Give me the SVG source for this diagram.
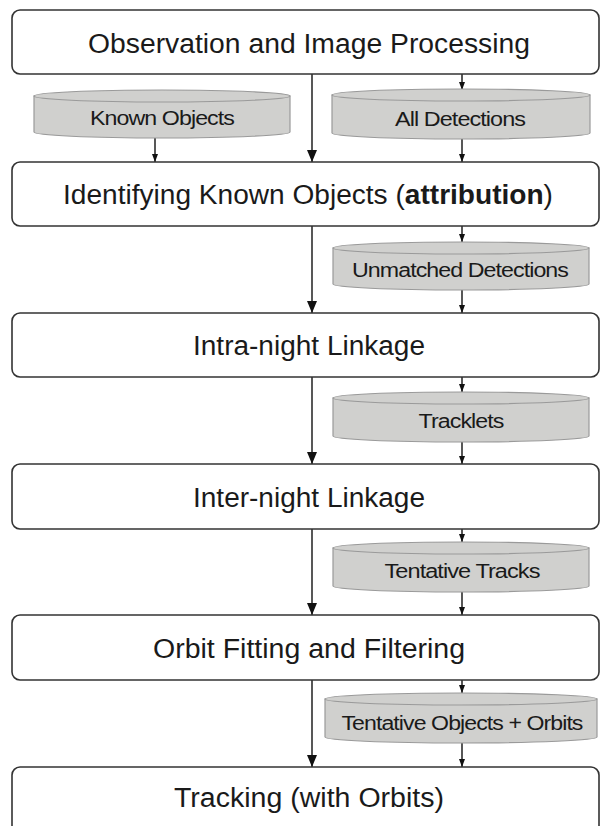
<svg xmlns="http://www.w3.org/2000/svg" width="600" height="826" viewBox="0 0 600 826">
<defs>
<marker id="big" viewBox="0 0 12 10" refX="12" refY="5" markerWidth="12" markerHeight="10" markerUnits="userSpaceOnUse" orient="auto">
<path d="M0,0 L12,5 L0,10 Z" fill="#111"/>
</marker>
<marker id="small" viewBox="0 0 8 6" refX="8" refY="3" markerWidth="8" markerHeight="6" markerUnits="userSpaceOnUse" orient="auto">
<path d="M0,0 L8,3 L0,6 Z" fill="#111"/>
</marker>
<style>
.box{fill:#fff;stroke:#333;stroke-width:1.6}
.cyl{fill:#d0d0ce;stroke:#9a9a9a;stroke-width:1.2}
.bt{font-family:"Liberation Sans",Arial,sans-serif;font-size:27px;fill:#1a1a1a;text-anchor:middle}
.ct{font-family:"Liberation Sans",Arial,sans-serif;font-size:20px;fill:#1a1a1a;text-anchor:middle;letter-spacing:-0.8px}
.line{stroke:#111;stroke-width:1.4;fill:none}
</style>
</defs>
<rect width="600" height="826" fill="#fff"/>

<g id="connectors">
<line class="line" x1="312" y1="74" x2="312" y2="162" marker-end="url(#big)"/>
<line class="line" x1="312" y1="226" x2="312" y2="313" marker-end="url(#big)"/>
<line class="line" x1="312" y1="377" x2="312" y2="464" marker-end="url(#big)"/>
<line class="line" x1="312" y1="529" x2="312" y2="615" marker-end="url(#big)"/>
<line class="line" x1="312" y1="680" x2="312" y2="767" marker-end="url(#big)"/>
<line class="line" x1="155" y1="138" x2="155" y2="162" marker-end="url(#small)"/>
<line class="line" x1="462" y1="74" x2="462" y2="90" marker-end="url(#small)"/>
<line class="line" x1="462" y1="139" x2="462" y2="162" marker-end="url(#small)"/>
<line class="line" x1="462" y1="226" x2="462" y2="242" marker-end="url(#small)"/>
<line class="line" x1="462" y1="290" x2="462" y2="313" marker-end="url(#small)"/>
<line class="line" x1="462" y1="377" x2="462" y2="392" marker-end="url(#small)"/>
<line class="line" x1="462" y1="442" x2="462" y2="464" marker-end="url(#small)"/>
<line class="line" x1="462" y1="529" x2="462" y2="542" marker-end="url(#small)"/>
<line class="line" x1="462" y1="592" x2="462" y2="615" marker-end="url(#small)"/>
<line class="line" x1="462" y1="680" x2="462" y2="693" marker-end="url(#small)"/>
<line class="line" x1="462" y1="743" x2="462" y2="767" marker-end="url(#small)"/>
</g>

<g id="observation">
<rect class="box" x="12" y="10" width="587" height="64" rx="8"/>
<text class="bt" x="309" y="53" textLength="442" lengthAdjust="spacingAndGlyphs">Observation and Image Processing</text>
</g>

<g id="known-objects">
<path class="cyl" d="M34,96 V132 A128,6 0 0 0 290,132 V96 Z"/>
<ellipse class="cyl" cx="162" cy="96" rx="128" ry="6"/>
<text class="ct" x="162" y="125" textLength="144" lengthAdjust="spacingAndGlyphs">Known Objects</text>
</g>

<g id="all-detections">
<path class="cyl" d="M332,95 V133 A129,6 0 0 0 590,133 V95 Z"/>
<ellipse class="cyl" cx="461" cy="95" rx="129" ry="6"/>
<text class="ct" x="460" y="126" textLength="130" lengthAdjust="spacingAndGlyphs">All Detections</text>
</g>

<g id="identifying">
<rect class="box" x="12" y="162" width="587" height="64" rx="8"/>
<text class="bt" x="308" y="204" textLength="490" lengthAdjust="spacingAndGlyphs">Identifying Known Objects (<tspan font-weight="bold">attribution</tspan>)</text>
</g>

<g id="unmatched-detections">
<path class="cyl" d="M333,248 V284 A128,6 0 0 0 589,284 V248 Z"/>
<ellipse class="cyl" cx="461" cy="248" rx="128" ry="6"/>
<text class="ct" x="460" y="277" textLength="216" lengthAdjust="spacingAndGlyphs">Unmatched Detections</text>
</g>

<g id="intra-night">
<rect class="box" x="12" y="313" width="587" height="64" rx="8"/>
<text class="bt" x="309" y="355" textLength="232" lengthAdjust="spacingAndGlyphs">Intra-night Linkage</text>
</g>

<g id="tracklets">
<path class="cyl" d="M333,398 V436 A128,6 0 0 0 589,436 V398 Z"/>
<ellipse class="cyl" cx="461" cy="398" rx="128" ry="6"/>
<text class="ct" x="461" y="428" textLength="85" lengthAdjust="spacingAndGlyphs">Tracklets</text>
</g>

<g id="inter-night">
<rect class="box" x="12" y="464" width="587" height="65" rx="8"/>
<text class="bt" x="309" y="507" textLength="232" lengthAdjust="spacingAndGlyphs">Inter-night Linkage</text>
</g>

<g id="tentative-tracks">
<path class="cyl" d="M333,548 V586 A128,6 0 0 0 589,586 V548 Z"/>
<ellipse class="cyl" cx="461" cy="548" rx="128" ry="6"/>
<text class="ct" x="462" y="578" textLength="155" lengthAdjust="spacingAndGlyphs">Tentative Tracks</text>
</g>

<g id="orbit-fitting">
<rect class="box" x="12" y="615" width="587" height="65" rx="8"/>
<text class="bt" x="309" y="658" textLength="312" lengthAdjust="spacingAndGlyphs">Orbit Fitting and Filtering</text>
</g>

<g id="tentative-objects">
<path class="cyl" d="M325,699 V737 A136,6 0 0 0 597,737 V699 Z"/>
<ellipse class="cyl" cx="461" cy="699" rx="136" ry="6"/>
<text class="ct" x="462" y="730" textLength="241" lengthAdjust="spacingAndGlyphs">Tentative Objects + Orbits</text>
</g>

<g id="tracking">
<rect class="box" x="12" y="767" width="587" height="80" rx="8"/>
<text class="bt" x="309" y="807" textLength="270" lengthAdjust="spacingAndGlyphs">Tracking (with Orbits)</text>
</g>
</svg>
